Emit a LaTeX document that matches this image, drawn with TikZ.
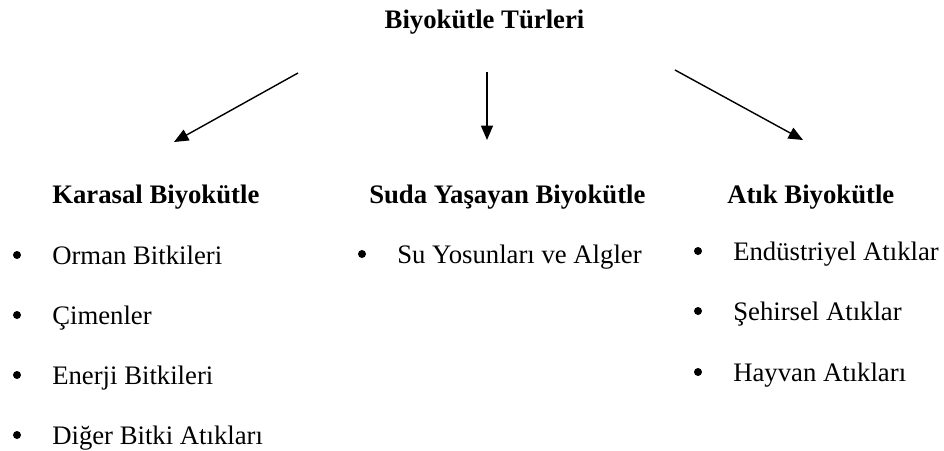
\documentclass[tikz,border=0pt]{standalone}
\usepackage{fontspec}
\setmainfont{Liberation Serif}
\usetikzlibrary{
    positioning,
    arrows.meta
    }

\begin{document}
\begin{tikzpicture}[x=0.025cm, y=-0.025cm]
% chktex-file 8
\tikzset{entry/.style =
        {
            anchor=base west,
            inner sep=0pt,
            font=\fontsize{19}{23}\selectfont
        }
}

\tikzset{heading/.style =
        {
            entry,
            font=\fontsize{19}{23}\selectfont\bfseries
        }
}

\tikzset{dot/.style =
        {
            shape=circle,
            fill=black,
            inner sep=0pt,
            minimum size=0.2cm
        }
}

\tikzset{branch/.style = {
            line width=1pt,
            -{Triangle[length=0.36cm, width=0.3cm]}
        }
}

		\useasboundingbox (0,0) rectangle (944,450);

		\node[heading, anchor=base] at (484.5,28) (title) {Biyokütle Türleri};

		\foreach \name / \x / \txt in
			{land/52/Karasal Biyokütle,
				water/369/Suda Yaşayan Biyokütle,
				waste/727/Atık Biyokütle}
		\node[heading] at (\x,203) (\name) {\txt};

		\foreach \name / \xb / \xt / \yb / \txt in
			{land-1/17/52/264/Orman Bitkileri,
				land-2/17/52/324/Çimenler,
				land-3/17/52/384/Enerji Bitkileri,
				land-4/17/52/444/Diğer Bitki Atıkları,
				water-1/362/397/263/Su Yosunları ve Algler,
				waste-1/698/733/260/Endüstriyel Atıklar,
				waste-2/698/733/320/Şehirsel Atıklar,
				waste-3/698/733/381/Hayvan Atıkları}
			{
				\node[dot] at (\xb,\yb-9) (dot-\name) {};
				\node[entry] at (\xt,\yb) (\name) {\txt};
			}

		\coordinate (from-land) at (298,73);
		\coordinate (to-land) at (174,142);
		\coordinate (from-water) at (487,72);
		\coordinate (to-water) at (487,140);
		\coordinate (from-waste) at (675,70);
		\coordinate (to-waste) at (803,140);

		\foreach \kind in {land, water, waste}
			{
				\draw [branch] (from-\kind) -- (to-\kind);
			}

	\end{tikzpicture}
\end{document}
